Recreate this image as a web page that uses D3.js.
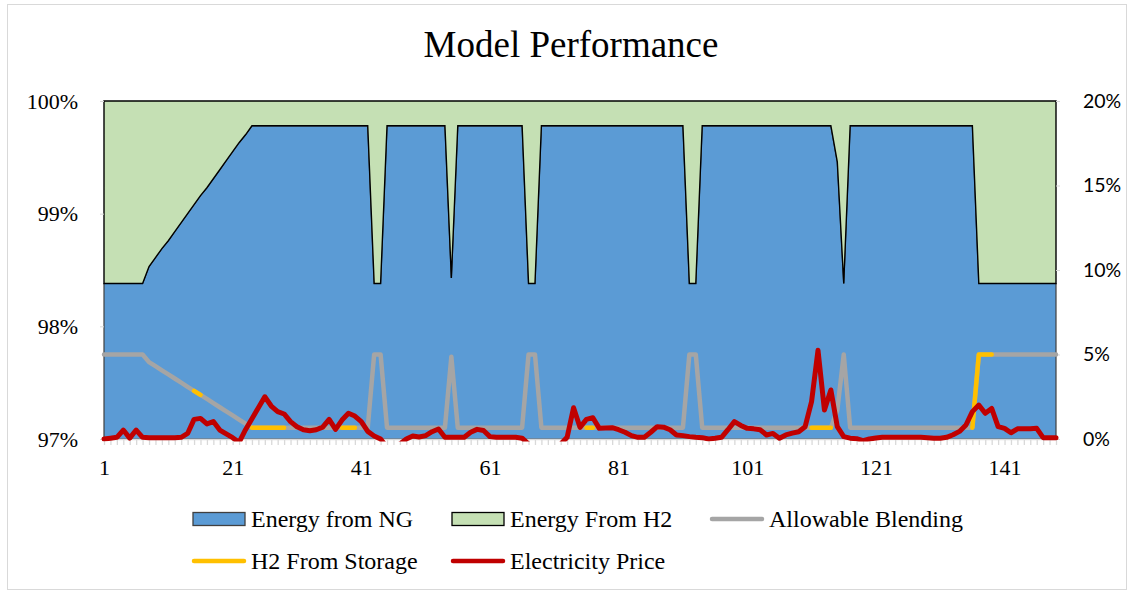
<!DOCTYPE html>
<html>
<head>
<meta charset="utf-8">
<script src="https://cdn.jsdelivr.net/npm/d3@7"></script>
<style>
  body { margin: 0; background: #ffffff; }
  svg { display: block; }
</style>
</head>
<body>
<svg id="chart" width="1133" height="592"></svg>
<script>
// Hour index along the horizontal axis
const categories = d3.range(1, 150);
const xTickLabels = [1, 21, 41, 61, 81, 101, 121, 141];
const leftTicks = [97, 98, 99, 100];
const rightTicks = [0, 5, 10, 15, 20];

// Share of delivered energy from natural gas (%)
const ngShare = [
  98.38, 98.38, 98.38, 98.38, 98.38, 98.38, 98.38, 98.53, 98.61, 98.69,
  98.76, 98.84, 98.92, 99.00, 99.08, 99.16, 99.23, 99.31, 99.39, 99.47,
  99.55, 99.63, 99.70, 99.78, 99.78, 99.78, 99.78, 99.78, 99.78, 99.78,
  99.78, 99.78, 99.78, 99.78, 99.78, 99.78, 99.78, 99.78, 99.78, 99.78,
  99.78, 99.78, 98.38, 98.38, 99.78, 99.78, 99.78, 99.78, 99.78, 99.78,
  99.78, 99.78, 99.78, 99.78, 98.43, 99.78, 99.78, 99.78, 99.78, 99.78,
  99.78, 99.78, 99.78, 99.78, 99.78, 99.78, 98.38, 98.38, 99.78, 99.78,
  99.78, 99.78, 99.78, 99.78, 99.78, 99.78, 99.78, 99.78, 99.78, 99.78,
  99.78, 99.78, 99.78, 99.78, 99.78, 99.78, 99.78, 99.78, 99.78, 99.78,
  99.78, 98.38, 98.38, 99.78, 99.78, 99.78, 99.78, 99.78, 99.78, 99.78,
  99.78, 99.78, 99.78, 99.78, 99.78, 99.78, 99.78, 99.78, 99.78, 99.78,
  99.78, 99.78, 99.78, 99.78, 99.46, 98.38, 99.78, 99.78, 99.78, 99.78,
  99.78, 99.78, 99.78, 99.78, 99.78, 99.78, 99.78, 99.78, 99.78, 99.78,
  99.78, 99.78, 99.78, 99.78, 99.78, 99.78, 98.38, 98.38, 98.38, 98.38,
  98.38, 98.38, 98.38, 98.38, 98.38, 98.38, 98.38, 98.38, 98.38
];

// Allowable hydrogen blending (% by volume, right axis)
const allowableBlending = [
  5.00, 5.00, 5.00, 5.00, 5.00, 5.00, 5.00, 4.55, 4.31, 4.06,
  3.82, 3.58, 3.34, 3.09, 2.85, 2.61, 2.37, 2.12, 1.88, 1.64,
  1.40, 1.15, 0.91, 0.67, 0.67, 0.67, 0.67, 0.67, 0.67, 0.67,
  0.67, 0.67, 0.67, 0.67, 0.67, 0.67, 0.67, 0.67, 0.67, 0.67,
  0.67, 0.67, 5.00, 5.00, 0.67, 0.67, 0.67, 0.67, 0.67, 0.67,
  0.67, 0.67, 0.67, 0.67, 4.87, 0.67, 0.67, 0.67, 0.67, 0.67,
  0.67, 0.67, 0.67, 0.67, 0.67, 0.67, 5.00, 5.00, 0.67, 0.67,
  0.67, 0.67, 0.67, 0.67, 0.67, 0.67, 0.67, 0.67, 0.67, 0.67,
  0.67, 0.67, 0.67, 0.67, 0.67, 0.67, 0.67, 0.67, 0.67, 0.67,
  0.67, 5.00, 5.00, 0.67, 0.67, 0.67, 0.67, 0.67, 0.67, 0.67,
  0.67, 0.67, 0.67, 0.67, 0.67, 0.67, 0.67, 0.67, 0.67, 0.67,
  0.67, 0.67, 0.67, 0.67, 1.70, 5.00, 0.67, 0.67, 0.67, 0.67,
  0.67, 0.67, 0.67, 0.67, 0.67, 0.67, 0.67, 0.67, 0.67, 0.67,
  0.67, 0.67, 0.67, 0.67, 0.67, 0.67, 5.00, 5.00, 5.00, 5.00,
  5.00, 5.00, 5.00, 5.00, 5.00, 5.00, 5.00, 5.00, 5.00
];

// Hydrogen drawn from storage (right axis); null where storage is idle
const h2FromStorage = [
  null, null, null, null, null, null, null, null, null, null,
  null, null, null, null, 2.85, 2.61, null, null, null, null,
  null, null, null, 0.67, 0.67, 0.67, 0.67, 0.67, 0.67, null,
  null, null, null, null, null, null, null, 0.67, 0.67, 0.67,
  null, null, null, null, null, null, null, null, null, null,
  null, null, null, null, null, null, null, null, null, null,
  null, null, null, null, null, null, null, null, null, null,
  null, null, null, null, null, 0.67, 0.67, null, null, null,
  null, null, null, null, null, null, null, null, null, null,
  null, null, null, null, null, null, null, null, null, null,
  null, null, null, null, null, null, null, null, null, null,
  0.67, 0.67, 0.67, 0.67, null, null, null, null, null, null,
  null, null, null, null, null, null, null, null, null, null,
  null, null, null, null, null, 0.67, 5.00, 5.00, 5.00, null,
  null, null, null, null, null, null, null, null, null
];

// Electricity price, normalised onto the right axis
const electricityPrice = [
  0.00, 0.05, 0.10, 0.53, 0.05, 0.53, 0.10, 0.08, 0.08, 0.08,
  0.08, 0.08, 0.10, 0.33, 1.16, 1.22, 0.89, 1.03, 0.53, 0.30,
  0.08, -0.20, 0.55, 1.20, 1.85, 2.50, 1.95, 1.62, 1.48, 1.03,
  0.73, 0.55, 0.49, 0.55, 0.70, 1.16, 0.57, 1.12, 1.52, 1.36,
  1.03, 0.45, 0.18, 0.00, -0.50, -0.50, -0.30, 0.00, 0.18, 0.12,
  0.20, 0.43, 0.59, 0.10, 0.10, 0.10, 0.10, 0.40, 0.57, 0.50,
  0.14, 0.10, 0.10, 0.10, 0.10, 0.05, -0.30, -0.50, -0.50, -0.50,
  -0.50, -0.30, 0.10, 1.85, 0.69, 1.16, 1.26, 0.63, 0.65, 0.67,
  0.55, 0.40, 0.20, 0.10, 0.10, 0.40, 0.73, 0.70, 0.55, 0.24,
  0.20, 0.14, 0.10, 0.08, 0.00, 0.04, 0.10, 0.55, 1.03, 0.80,
  0.63, 0.60, 0.55, 0.24, 0.33, 0.04, 0.24, 0.35, 0.43, 0.73,
  2.21, 5.25, 1.72, 2.90, 0.73, 0.14, 0.05, 0.02, -0.10, 0.00,
  0.06, 0.10, 0.10, 0.10, 0.10, 0.10, 0.10, 0.10, 0.08, 0.05,
  0.04, 0.10, 0.25, 0.45, 0.83, 1.62, 2.01, 1.52, 1.81, 0.73,
  0.63, 0.37, 0.60, 0.60, 0.60, 0.63, 0.08, 0.08, 0.08
];

// Energy shares are stacked to 100 %
const h2Share = ngShare.map(v => +(100 - v).toFixed(2));
const rows = categories.map((c, i) => ({ hour: c, ng: ngShare[i], h2: h2Share[i] }));

const COLORS = {
  ng: "#5B9BD5", h2: "#C5E0B4", blend: "#A5A5A5",
  storage: "#FFC000", price: "#C00000", axis: "#D9D9D9"
};
const SERIF = "'Liberation Serif', 'Times New Roman', serif";
const SANS = "Lato, 'Liberation Sans', sans-serif";

const plot = { left: 104, right: 1056, top: 101, bottom: 439 };
const svg = d3.select("#chart");

// Chart frame
svg.append("rect")
  .attr("x", 7.5).attr("y", 4.5).attr("width", 1119).attr("height", 585)
  .attr("fill", "#fff").attr("stroke", COLORS.axis).attr("stroke-width", 1);

const x = d3.scalePoint().domain(categories).range([plot.left, plot.right]);
const yL = d3.scaleLinear().domain([97, 100]).range([plot.bottom, plot.top]);
const yR = d3.scaleLinear().domain([0, 20]).range([plot.bottom, plot.top]);

// Stacked energy shares; the left axis starts at 97 %, so the base is held there
const stacked = d3.stack().keys(["ng", "h2"])(rows);
const yMin = yL.domain()[0];
const area = d3.area()
  .x(d => x(d.data.hour))
  .y0(d => yL(Math.max(d[0], yMin)))
  .y1(d => yL(d[1]));

svg.append("path").datum(stacked[0])
  .attr("d", area).attr("fill", COLORS.ng)
  .attr("stroke", "#404040").attr("stroke-width", 1.2);
svg.append("path").datum(stacked[1])
  .attr("d", area).attr("fill", COLORS.h2)
  .attr("stroke", "#000").attr("stroke-width", 1.4).attr("stroke-linejoin", "miter");

// Axes
const xAxis = svg.append("g")
  .attr("transform", `translate(0,${plot.bottom})`)
  .call(d3.axisBottom(x)
    .tickSize(6).tickSizeOuter(0)
    .tickFormat(d => xTickLabels.includes(d) ? String(d) : ""));
xAxis.select(".domain").attr("stroke", COLORS.axis).attr("stroke-width", 1.3);
xAxis.selectAll(".tick line").attr("stroke", COLORS.axis).attr("stroke-width", 1.3);
xAxis.selectAll("text")
  .attr("y", 36).attr("dy", 0)
  .attr("font-family", SERIF).attr("font-size", 22).attr("fill", "#000");

const yAxisL = svg.append("g")
  .attr("transform", `translate(${plot.left},0)`)
  .call(d3.axisLeft(yL).tickValues(leftTicks).tickSize(4).tickPadding(22)
    .tickFormat(d => d + "%"));
yAxisL.select(".domain").remove();
yAxisL.selectAll(".tick line").attr("stroke", COLORS.axis);
yAxisL.selectAll("text")
  .attr("font-family", SERIF).attr("font-size", 22).attr("fill", "#000");

const yAxisR = svg.append("g")
  .attr("transform", `translate(${plot.right},0)`)
  .call(d3.axisRight(yR).tickValues(rightTicks).tickSize(4).tickPadding(23)
    .tickFormat(d => d + "%"));
yAxisR.select(".domain").remove();
yAxisR.selectAll(".tick line").attr("stroke", COLORS.axis);
yAxisR.selectAll("text")
  .attr("font-family", SANS).attr("font-size", 19.5).attr("fill", "#000");

// Clip lines to the plot area
svg.append("defs").append("clipPath").attr("id", "plot-clip")
  .append("rect")
  .attr("x", plot.left - 4).attr("y", plot.top)
  .attr("width", plot.right - plot.left + 8).attr("height", plot.bottom - plot.top + 2.5);

const lines = svg.append("g").attr("clip-path", "url(#plot-clip)");
const lineR = d3.line()
  .defined(d => d.v != null)
  .x(d => x(d.hour))
  .y(d => yR(d.v));
const seriesOf = arr => categories.map((c, i) => ({ hour: c, v: arr[i] }));

lines.append("path").datum(seriesOf(allowableBlending))
  .attr("d", lineR).attr("fill", "none").attr("stroke", COLORS.blend)
  .attr("stroke-width", 4.5).attr("stroke-linejoin", "round").attr("stroke-linecap", "round");
lines.append("path").datum(seriesOf(h2FromStorage))
  .attr("d", lineR).attr("fill", "none").attr("stroke", COLORS.storage)
  .attr("stroke-width", 4.5).attr("stroke-linejoin", "round").attr("stroke-linecap", "round");
lines.append("path").datum(seriesOf(electricityPrice))
  .attr("d", lineR).attr("fill", "none").attr("stroke", COLORS.price)
  .attr("stroke-width", 5).attr("stroke-linejoin", "round").attr("stroke-linecap", "round");

// Title
svg.append("text")
  .attr("x", 571).attr("y", 57).attr("text-anchor", "middle")
  .attr("font-family", SERIF).attr("font-size", 37).attr("fill", "#000")
  .text("Model Performance");

// Legend
const legendItems = [
  { label: "Energy from NG", kind: "rect", fill: COLORS.ng, stroke: "#404040", x: 193, y: 519 },
  { label: "Energy From H2", kind: "rect", fill: COLORS.h2, stroke: "#000", x: 452, y: 519 },
  { label: "Allowable Blending", kind: "line", stroke: COLORS.blend, x: 711, y: 519 },
  { label: "H2 From Storage", kind: "line", stroke: COLORS.storage, x: 193, y: 561 },
  { label: "Electricity Price", kind: "line", stroke: COLORS.price, x: 452, y: 561 }
];
const legend = svg.append("g");
legendItems.forEach(it => {
  const g = legend.append("g");
  if (it.kind === "rect") {
    g.append("rect").attr("x", it.x).attr("y", it.y - 6.5).attr("width", 52).attr("height", 13)
      .attr("fill", it.fill).attr("stroke", it.stroke).attr("stroke-width", 1.3);
  } else {
    g.append("line").attr("x1", it.x + 1).attr("x2", it.x + 51).attr("y1", it.y).attr("y2", it.y)
      .attr("stroke", it.stroke).attr("stroke-width", 4.5).attr("stroke-linecap", "round");
  }
  g.append("text").attr("x", it.x + 58).attr("y", it.y + 8)
    .attr("font-family", SERIF).attr("font-size", 24).attr("fill", "#000")
    .text(it.label);
});
</script>
</body>
</html>
